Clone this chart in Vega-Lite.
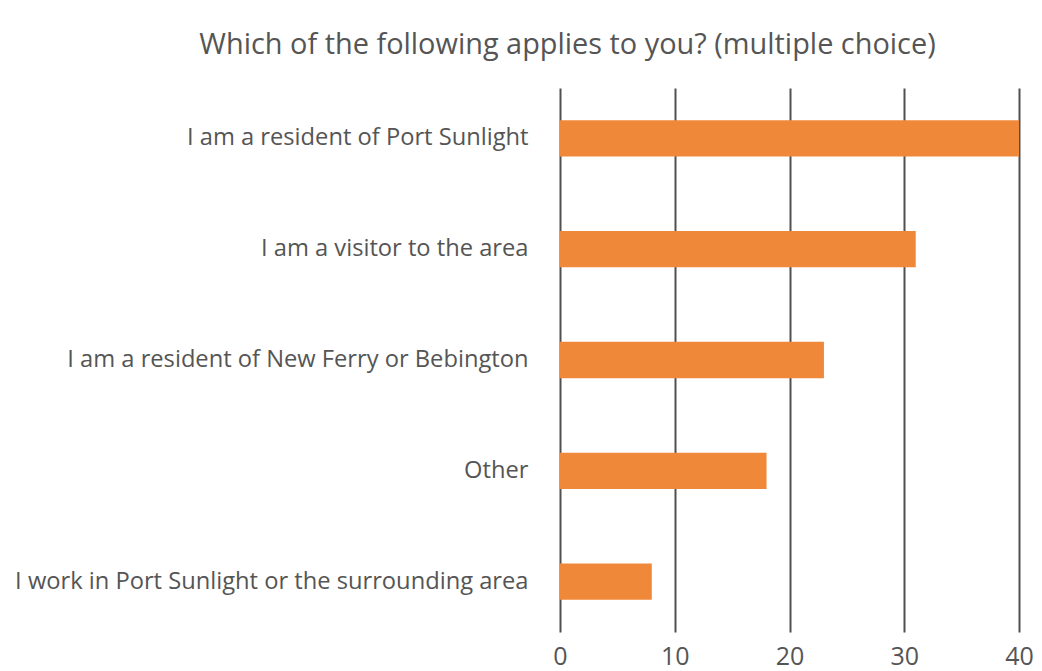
{
  "$schema": "https://vega.github.io/schema/vega-lite/v6.json",
  "width": 459,
  "height": 544,
  "autosize": "none",
  "padding": {"left": 560, "top": 88, "right": 23, "bottom": 39},
  "background": "white",
  "title": {
    "text": "Which of the following applies to you? (multiple choice)",
    "font": "Open Sans",
    "fontSize": 28.9,
    "fontWeight": "normal",
    "color": "#555555",
    "anchor": "middle",
    "dx": -222,
    "offset": 28
  },
  "data": {
    "values": [
      {"category": "I am a resident of Port Sunlight", "count": 40},
      {"category": "I am a visitor to the area", "count": 31},
      {"category": "I am a resident of New Ferry or Bebington", "count": 23},
      {"category": "Other", "count": 18},
      {"category": "I work in Port Sunlight or the surrounding area", "count": 8}
    ]
  },
  "mark": {"type": "bar", "color": "#F0883A"},
  "encoding": {
    "y": {
      "field": "category",
      "type": "nominal",
      "sort": null,
      "title": null,
      "scale": {"paddingInner": 0.672, "paddingOuter": 0.29},
      "axis": {
        "domain": false,
        "ticks": false,
        "grid": false,
        "labelFont": "Open Sans",
        "labelFontSize": 23.7,
        "labelColor": "#555555",
        "labelPadding": 32,
        "labelLimit": 600
      }
    },
    "x": {
      "field": "count",
      "type": "quantitative",
      "title": null,
      "scale": {"domain": [0, 40], "nice": false},
      "axis": {
        "values": [0, 10, 20, 30, 40],
        "domain": false,
        "ticks": false,
        "grid": true,
        "gridColor": "#505050",
        "gridWidth": 2,
        "gridOpacity": 1,
        "labelFont": "Open Sans",
        "labelFontSize": 25,
        "labelColor": "#555555",
        "labelPadding": 12,
        "labelFlush": false
      }
    }
  },
  "config": {"view": {"stroke": null}}
}
